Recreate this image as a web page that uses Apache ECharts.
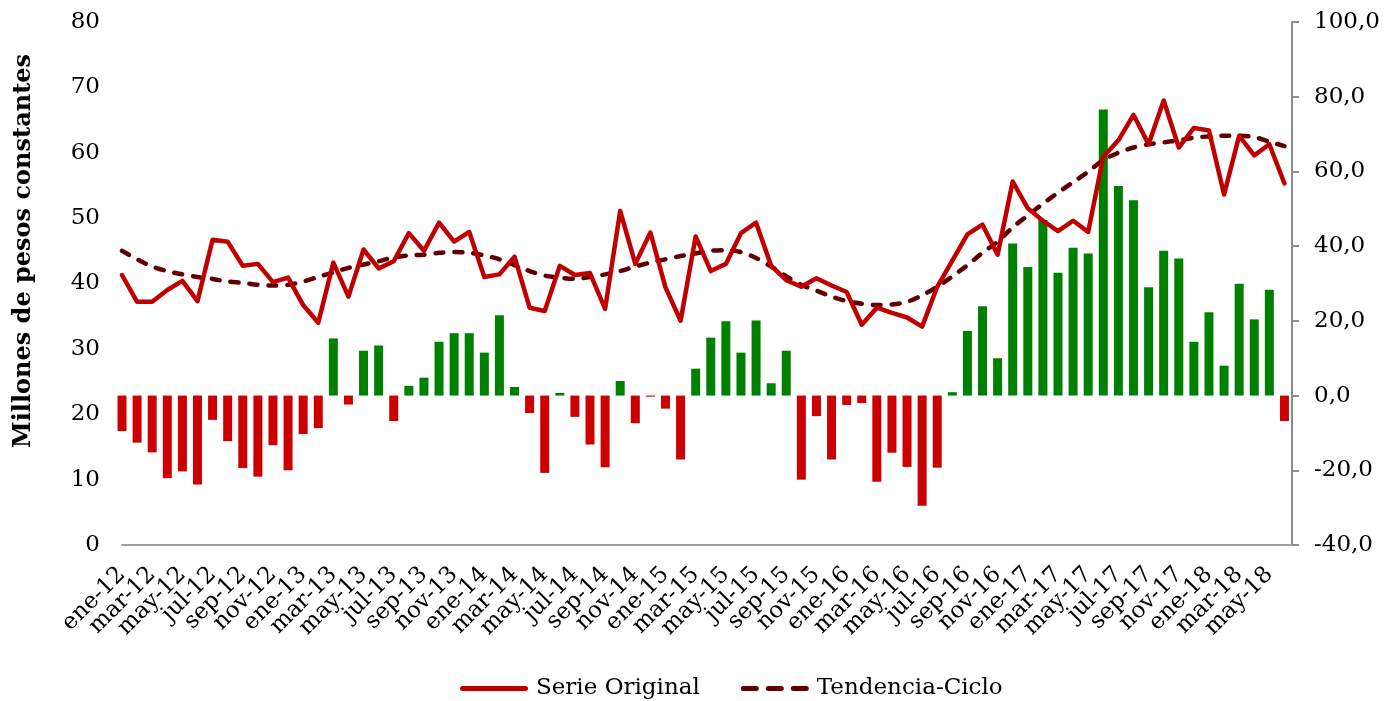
<!DOCTYPE html>
<html><head><meta charset="utf-8">
<script src="https://cdn.jsdelivr.net/npm/echarts@6/dist/echarts.min.js"></script>
<style>html,body{margin:0;padding:0;background:#fff}#c{width:1386px;height:701px}</style>
</head><body><div id="c"></div>
<script>
const categorias = [
 'ene-12','feb-12','mar-12','abr-12','may-12','jun-12','jul-12','ago-12','sep-12','oct-12','nov-12','dic-12',
 'ene-13','feb-13','mar-13','abr-13','may-13','jun-13','jul-13','ago-13','sep-13','oct-13','nov-13','dic-13',
 'ene-14','feb-14','mar-14','abr-14','may-14','jun-14','jul-14','ago-14','sep-14','oct-14','nov-14','dic-14',
 'ene-15','feb-15','mar-15','abr-15','may-15','jun-15','jul-15','ago-15','sep-15','oct-15','nov-15','dic-15',
 'ene-16','feb-16','mar-16','abr-16','may-16','jun-16','jul-16','ago-16','sep-16','oct-16','nov-16','dic-16',
 'ene-17','feb-17','mar-17','abr-17','may-17','jun-17','jul-17','ago-17','sep-17','oct-17','nov-17','dic-17',
 'ene-18','feb-18','mar-18','abr-18','may-18','jun-18'
];
const serieOriginal = [
 41.3, 37.2, 37.2, 39.0, 40.4, 37.3, 46.7, 46.4, 42.7, 43.0, 40.2, 40.9,
 36.7, 34.0, 43.2, 38.0, 45.2, 42.3, 43.4, 47.7, 45.0, 49.3, 46.4, 47.9,
 41.0, 41.4, 44.1, 36.3, 35.8, 42.7, 41.3, 41.6, 36.1, 51.1, 43.0, 47.8,
 39.4, 34.3, 47.2, 41.9, 43.0, 47.7, 49.3, 42.7, 40.5, 39.5, 40.8, 39.7,
 38.7, 33.7, 36.3, 35.5, 34.8, 33.4, 39.5, 43.5, 47.5, 49.0, 44.4, 55.6,
 51.5, 49.6, 48.0, 49.6, 47.9, 59.4, 61.9, 65.8, 61.3, 68.0, 60.8, 63.8,
 63.4, 53.6, 62.6, 59.6, 61.3, 55.3
];
const tendenciaCiclo = [
 45.0, 43.7, 42.6, 41.9, 41.4, 41.0, 40.7, 40.3, 40.1, 39.8, 39.7, 39.8,
 40.3, 41.0, 41.7, 42.4, 42.9, 43.4, 44.0, 44.3, 44.4, 44.7, 44.8, 44.7,
 44.3, 43.7, 42.8, 41.9, 41.2, 40.9, 40.7, 41.0, 41.4, 41.9, 42.6, 43.2,
 43.7, 44.2, 44.6, 45.0, 45.1, 44.8, 43.9, 42.6, 41.1, 39.8, 38.9, 38.0,
 37.3, 36.9, 36.7, 36.8, 37.2, 38.2, 39.5, 41.1, 42.8, 44.7, 46.4, 48.6,
 50.4, 52.2, 53.9, 55.5, 57.1, 58.9, 60.0, 60.8, 61.3, 61.6, 61.9, 62.3,
 62.5, 62.6, 62.6, 62.4, 61.7, 61.0
];
const variacion = [
 -9.5, -12.6, -15.2, -22.1, -20.3, -23.8, -6.5, -12.2, -19.4, -21.7, -13.3, -20.0,
 -10.3, -8.7, 15.3, -2.4, 12.0, 13.4, -6.8, 2.6, 4.8, 14.4, 16.7, 16.7,
 11.5, 21.5, 2.3, -4.7, -20.7, 0.7, -5.7, -13.1, -19.2, 3.9, -7.4, -0.3,
 -3.5, -17.1, 7.2, 15.5, 19.9, 11.5, 20.1, 3.3, 12.0, -22.5, -5.5, -17.1,
 -2.5, -2.0, -23.1, -15.3, -19.1, -29.5, -19.3, 0.9, 17.3, 23.9, 10.0, 40.7,
 34.4, 47.0, 32.9, 39.6, 38.0, 76.6, 56.1, 52.3, 29.0, 38.8, 36.7, 14.4,
 22.3, 8.0, 29.9, 20.4, 28.3, -6.8
];
const ticksIzq = [0, 80, 10];
const ticksDer = [-40, 100, 20];

const FONT = 'DejaVu Serif';
const ICON_SOLID = 'path://M2.5,0H65.5A2.5,2.5,0,0,1,65.5,5H2.5A2.5,2.5,0,0,1,2.5,0Z';
const ICON_DASH = 'path://M2.5,0H15.5A2.5,2.5,0,0,1,15.5,5H2.5A2.5,2.5,0,0,1,2.5,0Z' +
  'M27.5,0H40.5A2.5,2.5,0,0,1,40.5,5H27.5A2.5,2.5,0,0,1,27.5,0Z' +
  'M52.5,0H65.5A2.5,2.5,0,0,1,65.5,5H52.5A2.5,2.5,0,0,1,52.5,0Z';

const xLabelStyle = { rotate: 45, margin: 26, fontFamily: FONT, fontSize: 23, color: '#000', hideOverlap: false };
const xBase = { type: 'value', position: 'bottom', min: 0, max: categorias.length - 0.5, interval: 2,
  splitLine: { show: false }, axisTick: { show: false } };

const chart = echarts.init(document.getElementById('c'));
chart.setOption({
  backgroundColor: '#fff',
  animation: false,
  grid: { left: 122, right: 94, top: 22, bottom: 156, containLabel: false },
  legend: {
    data: [{ name: 'Serie Original', icon: ICON_SOLID }, { name: 'Tendencia-Ciclo', icon: ICON_DASH }],
    left: 455, top: 672,
    itemWidth: 68, itemHeight: 5, itemGap: 41,
    itemStyle: { borderWidth: 0 },
    textStyle: { fontFamily: FONT, fontSize: 23, color: '#000', padding: [0, 0, 0, 3] }
  },
  graphic: [{
    type: 'text', left: 12, top: 54,
    rotation: Math.PI / 2,
    style: { text: 'Millones de pesos constantes', font: 'bold 24px "DejaVu Serif"', fill: '#000' }
  }],
  xAxis: [Object.assign({}, xBase, {
    axisLine: { onZero: false, lineStyle: { color: '#a0a0a0', width: 2 } },
    axisLabel: Object.assign({}, xLabelStyle, {
      showMinLabel: false, showMaxLabel: false,
      formatter: v => (Number.isInteger(v) && categorias[v] !== undefined) ? categorias[v] : ''
    })
  }), Object.assign({}, xBase, {
    axisLine: { show: false, onZero: false },
    axisLabel: Object.assign({}, xLabelStyle, {
      showMinLabel: true, showMaxLabel: false,
      formatter: v => v === 0 ? categorias[0] : ''
    })
  })],
  yAxis: [{
    type: 'value', position: 'left', min: ticksIzq[0], max: ticksIzq[1], interval: ticksIzq[2],
    axisLine: { show: false, onZero: false }, axisTick: { show: false }, splitLine: { show: false },
    axisLabel: { margin: 22, fontFamily: FONT, fontSize: 23, color: '#000' }
  }, {
    type: 'value', position: 'right', min: ticksDer[0], max: ticksDer[1], interval: ticksDer[2],
    axisLine: { show: true, onZero: false, lineStyle: { color: '#8c8c8c', width: 2 } },
    axisTick: { show: true, length: 7, lineStyle: { color: '#8c8c8c', width: 2 } },
    splitLine: { show: false },
    axisLabel: { margin: 22, fontFamily: FONT, fontSize: 23, color: '#000',
      formatter: v => v.toFixed(1).replace('.', ',') }
  }],
  series: [{
    name: 'Variación', type: 'bar', xAxisIndex: 0, yAxisIndex: 1, barWidth: 9, clip: true,
    data: variacion.map((v, i) => [i, v]),
    itemStyle: { color: p => p.value[1] >= 0 ? '#008000' : '#cc0000' },
    z: 2
  }, {
    name: 'Serie Original', type: 'line', xAxisIndex: 0, yAxisIndex: 0, symbol: 'none',
    data: serieOriginal.map((v, i) => [i, v]),
    lineStyle: { color: '#c00000', width: 4.5, join: 'round', cap: 'round' },
    itemStyle: { color: '#c00000' },
    z: 4
  }, {
    name: 'Tendencia-Ciclo', type: 'line', xAxisIndex: 0, yAxisIndex: 0, symbol: 'none', smooth: 0.3,
    data: tendenciaCiclo.map((v, i) => [i, v]),
    lineStyle: { color: '#600000', width: 4.5, type: [8, 11], cap: 'round' },
    itemStyle: { color: '#600000' },
    z: 3
  }]
});
</script></body></html>
